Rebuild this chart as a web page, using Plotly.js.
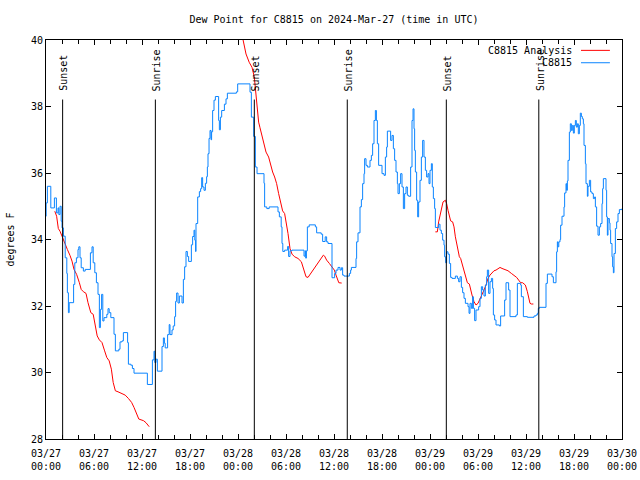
<!DOCTYPE html>
<html>
<head>
<meta charset="utf-8">
<script src="https://cdn.plot.ly/plotly-3.0.1.min.js"></script>
<style>html,body{margin:0;padding:0;background:#fff;}#chart{width:640px;height:480px;}</style>
</head>
<body>
<div id="chart"></div>
<script>
// Hours after 2024-03-27 00:00 UTC
var baseDate = "2024-03-27";

var obsHours = [0.0,0.02,0.17,0.6,1.05,1.3,1.5,1.6,1.75,1.9,2.0,2.17,2.4,2.6,2.67,2.8,2.9,3.45,3.6,3.8,4.0,4.1,4.25,4.4,4.67,4.9,5.55,5.75,5.9,6.1,6.3,6.5,6.67,6.8,6.95,7.1,7.25,7.6,7.75,7.9,8.1,8.5,8.67,9.1,9.25,9.5,9.67,10.2,10.3,10.6,10.8,11.0,12.67,13.3,13.5,13.6,13.75,13.92,14.5,14.67,14.8,14.9,15.2,15.4,15.5,15.75,15.9,16.08,16.2,16.33,16.5,16.67,17.0,17.17,17.33,17.5,17.67,17.83,18.17,18.33,18.5,18.6,18.7,18.75,18.96,19.17,19.33,19.46,19.58,19.75,19.92,20.08,20.17,20.25,20.38,20.5,20.63,20.7,20.83,21.0,21.17,21.58,21.67,21.8,21.96,22.3,22.5,22.67,23.8,23.96,25.5,25.67,25.96,26.17,26.38,27.25,27.33,27.6,27.9,29.0,29.17,29.4,29.5,29.6,29.83,30.2,30.33,30.5,30.75,32.25,32.4,32.46,32.55,32.67,32.9,33.67,33.83,34.4,34.58,34.9,35.08,35.25,35.75,36.08,36.25,36.5,36.75,36.92,37.08,37.25,37.92,38.08,38.17,38.75,38.83,39.0,39.25,39.42,39.58,39.75,39.83,40.0,40.17,40.5,40.67,40.83,41.0,41.17,41.3,41.42,41.58,42.0,42.25,42.42,42.58,42.67,43.08,43.25,43.42,43.58,43.75,43.92,44.0,44.17,44.33,44.5,44.67,44.83,45.0,45.17,45.33,45.58,45.75,45.88,46.0,46.08,46.17,46.33,46.46,46.58,46.75,46.92,47.08,47.25,47.42,47.58,47.75,47.875,48.0,48.17,48.29,48.42,48.58,48.67,49.08,49.25,49.42,49.58,49.75,49.83,49.96,50.08,50.25,50.42,50.58,50.75,51.17,51.42,51.58,51.75,51.92,52.08,52.25,52.42,52.75,52.88,53.0,53.17,53.33,53.42,53.58,53.75,54.08,54.25,54.42,54.58,54.75,54.92,55.08,55.17,55.33,55.5,55.67,55.83,55.92,56.08,56.25,56.67,56.83,57.33,57.5,57.83,58.0,58.75,58.92,59.33,59.42,59.67,60.17,61.0,61.25,61.42,61.54,61.67,62.5,62.67,63.25,63.42,63.75,63.83,63.92,64.0,64.1,64.25,64.33,64.5,64.75,64.83,65.0,65.08,65.17,65.25,65.42,65.54,65.67,65.79,65.92,66.04,66.17,66.29,66.42,66.54,66.67,66.79,66.92,67.04,67.17,67.25,67.42,67.5,67.67,67.75,67.92,68.08,68.25,68.42,68.58,68.67,68.83,69.0,69.17,69.33,69.5,69.58,69.67,70.0,70.08,70.17,70.25,70.42,70.5,70.58,70.75,70.83,70.92,71.0,71.17,71.33,71.5,71.67,72.0];
var obsValues = [34.7,35.1,35.6,34.95,35.25,34.8,34.95,34.75,35.0,34.55,34.35,34.1,33.45,32.98,32.4,31.8,32.1,32.65,33.3,33.45,33.7,33.78,33.45,33.15,33.05,33.1,33.6,33.78,33.3,33.0,32.7,32.35,31.35,31.9,32.35,31.55,31.65,31.75,31.92,31.8,31.65,31.15,30.65,30.7,30.92,30.95,31.2,30.9,30.25,30.22,30.12,29.98,29.64,30.38,30.64,30.3,30.4,30.04,30.78,31.04,30.88,30.74,31.14,31.44,31.14,31.28,31.4,31.68,32.14,32.39,32.09,32.3,32.09,32.8,33.18,33.64,33.49,33.34,33.84,34.09,34.28,33.98,33.64,34.48,35.28,35.44,35.53,35.86,35.58,35.48,35.69,35.89,36.18,36.58,37.04,37.28,37.0,37.24,37.88,38.19,38.3,37.58,37.3,37.68,37.88,38.07,38.23,38.4,38.44,38.68,38.43,37.68,37.1,36.18,35.98,35.69,34.98,34.93,34.98,34.83,34.68,34.38,33.88,33.64,33.68,33.79,33.49,33.66,33.68,33.5,33.66,33.44,33.66,34.38,34.44,34.38,34.2,34.16,33.94,34.08,33.93,33.88,32.85,32.98,33.08,33.16,33.08,33.15,32.93,32.9,32.98,33.08,33.16,33.43,33.93,34.2,34.98,35.2,35.68,35.98,36.43,36.23,36.18,36.38,36.53,36.88,37.58,37.88,37.58,36.88,36.23,35.98,35.93,36.48,36.78,37.26,36.98,37.13,36.73,36.38,36.03,35.68,35.38,35.68,35.98,35.58,34.93,35.38,35.58,35.33,35.3,36.18,37.58,37.93,37.33,36.68,36.03,35.18,34.68,35.13,35.78,36.48,36.98,36.48,36.08,35.88,35.98,35.68,36.08,36.28,35.58,35.23,34.93,34.36,34.46,34.28,34.18,33.98,33.83,33.48,33.3,33.63,33.56,33.28,32.86,32.83,32.9,32.83,32.73,32.88,32.56,32.4,32.23,32.08,31.98,31.78,32.08,31.93,32.28,31.93,31.56,31.88,31.98,32.23,32.58,32.48,32.3,32.63,32.88,33.08,32.38,32.73,32.83,32.53,31.73,31.58,31.43,31.4,31.7,32.18,32.7,32.48,31.68,31.73,32.68,32.63,32.28,31.68,31.66,31.7,31.73,31.78,31.93,31.96,32.68,32.96,32.88,32.7,33.03,33.63,33.93,33.78,33.93,34.0,34.43,34.7,34.98,35.4,35.68,35.48,35.76,36.38,37.23,37.48,37.28,37.43,37.2,37.43,37.58,37.38,37.48,37.18,37.43,37.8,37.7,37.63,37.48,36.83,36.28,35.68,35.3,35.6,35.78,35.43,35.38,35.23,35.28,34.98,34.4,34.13,34.38,34.48,35.08,35.53,35.83,35.48,34.68,34.13,34.63,34.5,34.28,33.88,33.48,33.18,33.0,33.58,34.33,34.53,34.78,34.9,34.93];

// Analysis series (null = gap between analysis runs)
var anaHours = [1.1,1.33,1.54,1.75,2.0,2.33,2.67,3.0,3.25,3.5,3.83,4.17,4.4,4.67,5.0,5.25,5.6,5.9,6.17,6.4,6.67,7.0,7.33,7.6,7.9,8.17,8.4,8.67,9.0,9.5,9.9,10.3,10.7,11.0,11.33,11.6,12.2,12.5,12.9,
  18.0,
  24.55,25.0,25.4,25.75,26.04,26.25,26.42,26.58,26.75,27.0,27.25,27.5,27.83,28.08,28.33,28.58,28.83,29.08,29.33,29.58,29.83,30.08,30.25,30.5,30.75,31.08,31.5,31.92,32.25,32.5,32.75,33.08,33.54,33.96,34.38,34.67,34.83,35.08,35.42,35.75,36.04,36.25,36.6,36.96,
  42.0,
  48.67,48.92,49.08,49.25,49.42,49.63,49.92,50.08,50.25,50.42,50.58,50.83,51.0,51.17,51.33,51.5,51.67,51.83,52.0,52.17,52.33,52.5,52.67,52.92,53.08,53.25,53.5,53.75,54.0,54.25,54.5,54.75,55.0,55.25,55.5,55.75,56.0,56.25,56.5,56.75,57.0,57.33,57.75,58.17,58.5,58.83,59.08,59.33,59.58,59.92,60.17,60.33,60.5,60.67,60.92];
var anaValues = [34.85,34.7,34.33,34.25,34.1,33.88,33.7,33.52,33.35,33.1,32.95,32.7,32.5,32.43,32.38,32.1,31.8,31.75,31.45,31.1,30.98,30.9,30.65,30.45,30.35,30.1,29.7,29.45,29.42,29.37,29.32,29.22,29.1,28.95,28.77,28.6,28.55,28.49,28.37,
  null,
  40.1,39.58,39.33,39.18,38.88,38.28,37.98,37.53,37.36,37.13,36.83,36.63,36.48,36.23,36.03,35.88,35.68,35.38,35.13,34.86,34.78,34.48,34.18,33.73,33.56,33.48,33.43,33.33,33.08,32.88,32.86,32.98,33.13,33.3,33.43,33.53,33.5,33.38,33.28,33.18,33.08,32.93,32.7,32.69,
  null,
  34.23,34.23,34.53,34.73,34.93,35.13,35.18,35.08,34.88,34.68,34.56,34.53,34.38,34.08,33.88,33.68,33.48,33.43,33.28,33.13,32.93,32.83,32.7,32.66,32.48,32.33,32.13,32.03,32.08,32.2,32.33,32.48,32.63,32.83,32.93,33.0,33.06,33.08,33.13,33.16,33.13,33.1,33.06,32.98,32.93,32.86,32.78,32.7,32.7,32.63,32.43,32.23,32.08,32.06,32.06];

var eventHours = [2.08, 13.67, 26.04, 37.66, 50.04, 61.6];
var eventLabels = ["Sunset", "Sunrise", "Sunset", "Sunrise", "Sunset", "Sunrise"];

function toDate(h) {
  var ms = Date.UTC(2024, 2, 27) + h * 3600000;
  return new Date(ms).toISOString().slice(0, 19).replace("T", " ");
}

var FONT = "DejaVu Sans Mono, monospace";
var BLUE = "#0a84ff";
var RED = "#ff0000";

var traces = [
  {
    x: anaHours.map(toDate), y: anaValues, type: "scatter", mode: "lines",
    name: "C8815 Analysis", line: {color: RED, width: 1}, connectgaps: false, showlegend: false
  },
  {
    x: obsHours.map(toDate), y: obsValues, type: "scatter", mode: "lines",
    name: "C8815", line: {color: BLUE, width: 1, shape: "hv"}, showlegend: false
  }
];

var shapes = eventHours.map(function (h) {
  return {type: "line", xref: "x", yref: "y", x0: toDate(h), x1: toDate(h), y0: 28, y1: 38.21,
          line: {color: "#000", width: 1}};
});
var annotations = eventHours.map(function (h, i) {
  return {xref: "x", yref: "y", x: toDate(h), y: 38.4, text: eventLabels[i], textangle: -90,
          showarrow: false, xanchor: "center", yanchor: "bottom", xshift: 1,
          font: {family: FONT, size: 10, color: "#000"}};
});

// legend (gnuplot style: label then sample)
var legendNames = ["C8815 Analysis", "C8815"];
var legendColors = [RED, BLUE];
var legendY = [0.974, 0.943];
legendNames.forEach(function (n, i) {
  annotations.push({xref: "paper", yref: "paper", x: 0.9175, y: legendY[i], text: n, showarrow: false,
    xanchor: "right", yanchor: "middle", font: {family: FONT, size: 10, color: "#000"}});
  shapes.push({type: "line", xref: "paper", yref: "paper", x0: 0.9288, x1: 0.979, y0: legendY[i], y1: legendY[i],
    line: {color: legendColors[i], width: 1}});
});

var layout = {
  width: 640, height: 480,
  margin: {l: 46, r: 18, t: 40, b: 41, pad: 0},
  paper_bgcolor: "#fff", plot_bgcolor: "#fff",
  font: {family: FONT, size: 10, color: "#000"},
  title: {text: "Dew Point for C8815 on 2024-Mar-27 (time in UTC)", x: 0.5, xref: "paper",
          y: 0.96, yref: "container", yanchor: "middle", font: {family: FONT, size: 10, color: "#000"}},
  showlegend: false,
  xaxis: {
    type: "date", range: [toDate(0), toDate(72)],
    tick0: toDate(0), dtick: 6 * 3600000, tickformat: "%m/%d<br>%H:%M",
    ticks: "inside", ticklen: 5, tickcolor: "#000", mirror: "allticks",
    showline: true, linecolor: "#000", linewidth: 1, showgrid: false, zeroline: false,
    minor: {dtick: 2 * 3600000, ticks: "inside", ticklen: 4, tickcolor: "#000", showgrid: false},
    ticklabelstandoff: 5,
    tickfont: {family: FONT, size: 10, color: "#000"}, fixedrange: true
  },
  yaxis: {
    range: [28, 40], dtick: 2, tick0: 28,
    ticks: "inside", ticklen: 5, tickcolor: "#000", mirror: "allticks",
    showline: true, linecolor: "#000", linewidth: 1, showgrid: false, zeroline: false,
    tickfont: {family: FONT, size: 10, color: "#000"},
    title: {text: "degrees F", standoff: 14, font: {family: FONT, size: 10, color: "#000"}}
  },
  shapes: shapes,
  annotations: annotations
};

Plotly.newPlot("chart", traces, layout, {staticPlot: true, displayModeBar: false});
</script>
</body>
</html>
